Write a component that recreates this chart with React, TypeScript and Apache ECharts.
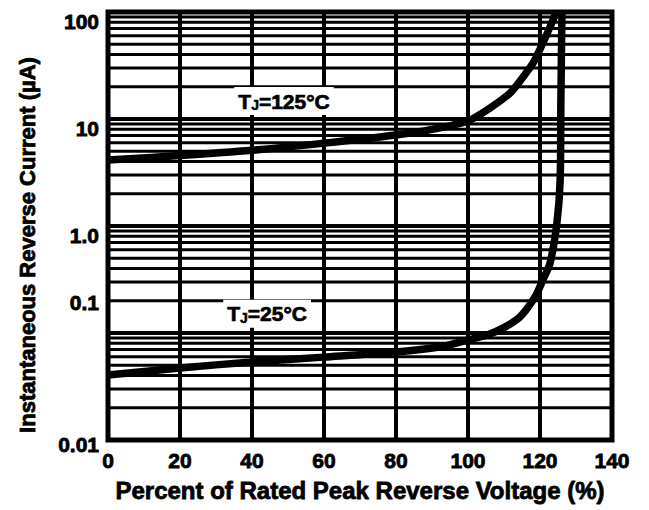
import React, { useEffect, useRef } from "react";
import * as echarts from "echarts";

// Percent of rated peak reverse voltage (%)
const X_125 = [0, 20, 40, 60, 80, 90, 100, 106, 111.7, 115.3, 118.1, 120.8, 123.6, 124.4];
// Instantaneous reverse current (µA) at TJ = 125°C
const I_125 = [4.14, 4.55, 5.1, 5.95, 7.1, 8.0, 9.6, 12.6, 17.5, 24.7, 33.4, 51.3, 84, 100];

const X_25 = [0, 20, 40, 60, 80, 92, 100, 105.3, 109.7, 114.4, 118.6, 120.8, 122.8, 124.7, 125.6, 125.8, 126.1];
// Instantaneous reverse current (µA) at TJ = 25°C
const I_25 = [0.0405, 0.0471, 0.0536, 0.0595, 0.0664, 0.074, 0.0861, 0.0957, 0.111, 0.141, 0.217, 0.313, 0.451, 1.07, 2.69, 15, 100];

const Y_TICK_LABELS = ["0.01", "0.1", "1.0", "10", "100"];
const DECADES = [0.01, 0.1, 1, 10];
const MINOR_STEPS = [2, 3, 4, 5, 6, 7, 8, 9];

const LABEL_125 = { text: "=125°C", x: 48.9, y: 14.7 };
const LABEL_25 = { text: "=25°C", x: 44.2, y: 0.151 };

const FONT = "'Liberation Sans', Arial, sans-serif";

export default function App() {
  const ref = useRef<HTMLDivElement>(null);

  useEffect(() => {
    if (!ref.current) return;
    const chart = echarts.init(ref.current, undefined, { renderer: "svg" });

    const minorLines: number[] = [];
    DECADES.forEach((d) => MINOR_STEPS.forEach((m) => minorLines.push(+(d * m).toPrecision(3))));

    const baseText = {
      fontFamily: FONT,
      fontWeight: "bold" as const,
      fontSize: 21,
      color: "#000",
      textBorderColor: "#000",
      textBorderWidth: 0.8,
    };

    // minor gridlines (2..9 of each decade) on the log axis
    const gridSeries = {
      type: "custom",
      silent: true,
      z: 1,
      clip: false,
      data: minorLines.map((v) => [0, v]),
      renderItem: (_params: any, api: any) => {
        const v = api.value(1);
        const a = api.coord([0, v]);
        const b = api.coord([140, v]);
        return {
          type: "line",
          shape: { x1: a[0], y1: a[1], x2: b[0], y2: b[1] },
          style: { stroke: "#000", lineWidth: 3 },
        };
      },
    };

    const labelSeries = (lbl: { text: string; x: number; y: number }) => ({
      type: "scatter",
      data: [[lbl.x, lbl.y]],
      symbolSize: 1,
      silent: true,
      z: 10,
      itemStyle: { color: "rgba(0,0,0,0)" },
      label: {
        show: true,
        position: "inside",
        opacity: 1,
        formatter: () => `{t|T}{s|J}{t|${lbl.text}}`,
        backgroundColor: "#fff",
        padding: [3, 4, 3, 4],
        rich: {
          t: { ...baseText, fontSize: 21, textBorderWidth: 0.7 },
          s: { ...baseText, fontSize: 14, textBorderWidth: 0.5, padding: [8, 0, 0, 0] },
        },
      },
    });

    chart.setOption({
      animation: false,
      backgroundColor: "#fff",
      grid: {
        left: 108,
        right: 37,
        top: 12,
        bottom: 70,
        show: true,
        borderColor: "#000",
        borderWidth: 5,
        backgroundColor: "transparent",
      },
      xAxis: {
        type: "value",
        min: 0,
        max: 140,
        interval: 20,
        name: "Percent of Rated Peak Reverse Voltage (%)",
        nameLocation: "middle",
        nameGap: 38,
        nameTextStyle: { ...baseText, fontSize: 24 },
        axisLine: { show: false },
        axisTick: { show: false },
        axisLabel: { ...baseText, margin: 10 },
        splitLine: { show: true, lineStyle: { color: "#000", width: 4 } },
      },
      yAxis: {
        type: "log",
        logBase: 10,
        min: 0.01,
        max: 100,
        splitNumber: 4,
        name: "Instantaneous Reverse Current (µA)",
        nameLocation: "middle",
        nameGap: 70,
        nameTextStyle: { ...baseText, fontSize: 22, padding: [0, 38, 0, 0] },
        axisLine: { show: false },
        axisTick: { show: false },
        axisLabel: {
          margin: 9,
          formatter: (v: number) => {
            const i = Math.round(Math.log10(v)) + 2;
            const s = Y_TICK_LABELS[i] ?? "";
            const key = i === 1 ? "up" : i === 0 ? "lo" : "dn";
            return `{${key}|${s}}`;
          },
          rich: {
            dn: { ...baseText, padding: [18, 0, 0, 0] },
            up: { ...baseText, padding: [0, 0, 62, 0] },
            lo: { ...baseText, padding: [8, 0, 0, 0] },
          },
        },
        splitLine: { show: true, lineStyle: { color: "#000", width: 4 } },
      },
      series: [
        gridSeries,
        {
          name: "TJ=125°C",
          type: "line",
          data: X_125.map((x, i) => [x, I_125[i]]),
          showSymbol: false,
          smooth: 0.25,
          lineStyle: { color: "#000", width: 7.5 },
          z: 3,
        },
        {
          name: "TJ=25°C",
          type: "line",
          data: X_25.map((x, i) => [x, I_25[i]]),
          showSymbol: false,
          smooth: 0.25,
          lineStyle: { color: "#000", width: 7.5 },
          z: 3,
        },
        labelSeries(LABEL_125),
        labelSeries(LABEL_25),
      ],
    });

    return () => chart.dispose();
  }, []);

  return (
    <div
      ref={ref}
      style={{ position: "fixed", left: 0, top: 0, width: 649, height: 510, background: "#fff" }}
    />
  );
}
